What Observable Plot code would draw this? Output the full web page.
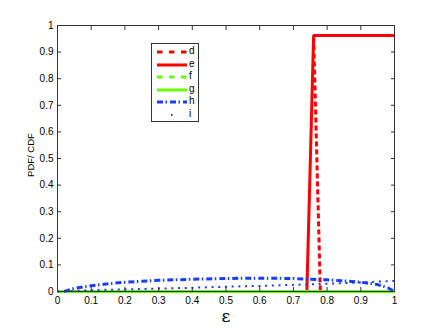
<!DOCTYPE html>
<html>
<head>
<meta charset="utf-8">
<script src="https://cdn.jsdelivr.net/npm/d3@7"></script>
<script src="https://cdn.jsdelivr.net/npm/@observablehq/plot@0.6"></script>
<style>
  html, body { margin: 0; padding: 0; background: #fff; }
  #wrap { position: relative; width: 436px; height: 328px; font-family: "Liberation Sans", Arial, sans-serif; }
  #legend { position: absolute; left: 151px; top: 43px; width: 48px; height: 79px; border: 1px solid #333; background: #fff; box-sizing: border-box; }
  #legend .row { position: absolute; left: 0; height: 12px; width: 100%; }
  #legend svg { position: absolute; left: 5px; top: 0; }
  #legend span { position: absolute; left: 37px; top: -1px; font-size: 10px; color: #000; }
</style>
</head>
<body>
<div id="wrap"></div>
<script>
// ---- data ----
const tickValues = [0, 0.1, 0.2, 0.3, 0.4, 0.5, 0.6, 0.7, 0.8, 0.9, 1];
const tickLabels = ["0", "0.1", "0.2", "0.3", "0.4", "0.5", "0.6", "0.7", "0.8", "0.9", "1"];

const seriesNames = ["d", "e", "f", "g", "h", "i"];
const dX = [0, 0.78, 0.76, 1];
const dY = [0, 0, 0.962, 0.962];
const eX = [0, 0.74, 0.76, 1];
const eY = [0, 0, 0.962, 0.962];
const fX = [0, 1];
const fY = [0, 0];
const gX = [0, 1];
const gY = [0, 0];
const hX = [0.02, 0.05, 0.1, 0.15, 0.2, 0.3, 0.4, 0.5, 0.6, 0.7, 0.75, 0.8, 0.85, 0.9, 0.95, 0.98, 1.0];
const hY = [0, 0.012, 0.022, 0.029, 0.035, 0.042, 0.046, 0.049, 0.05, 0.049, 0.046, 0.044, 0.040, 0.035, 0.026, 0.014, 0];
const iX = [0, 0.1, 0.2, 0.3, 0.4, 0.5, 0.6, 0.7, 0.8, 0.9, 1.0];
const iY = [0, 0.005, 0.008, 0.011, 0.014, 0.018, 0.021, 0.025, 0.029, 0.034, 0.04];

const styles = {
  d: {stroke: "#ff0000", strokeWidth: 3, dash: "5,3"},
  e: {stroke: "#ff0000", strokeWidth: 3, dash: null},
  f: {stroke: "#66ff00", strokeWidth: 3, dash: "5,3"},
  g: {stroke: "#66ff00", strokeWidth: 3, dash: null},
  h: {stroke: "#1a3cff", strokeWidth: 3, dash: "6,2.5,1.5,3"},
  i: {stroke: "#1a3cff", strokeWidth: 2, dash: "2,4.7"}
};

const xs = {d: dX, e: eX, f: fX, g: gX, h: hX, i: iX};
const ys = {d: dY, e: eY, f: fY, g: gY, h: hY, i: iY};

const lineMarks = seriesNames.map(name => {
  const data = xs[name].map((x, k) => ({x, y: ys[name][k]}));
  const s = styles[name];
  return Plot.line(data, {x: "x", y: "y", stroke: s.stroke, strokeWidth: s.strokeWidth,
    strokeDasharray: s.dash ?? undefined, strokeLinejoin: "miter", strokeLinecap: "butt"});
});

const fmt = d => tickLabels[tickValues.indexOf(d)] ?? String(d);
const axisColor = "#333";

const chart = Plot.plot({
  width: 436,
  height: 328,
  marginLeft: 57,
  marginRight: 42,
  marginTop: 25,
  marginBottom: 37,
  style: {fontFamily: "Liberation Sans, Arial, sans-serif", background: "#fff", overflow: "visible"},
  x: {domain: [0, 1], ticks: tickValues},
  y: {domain: [0, 1], ticks: tickValues},
  marks: [
    ...lineMarks,
    Plot.frame({stroke: axisColor, strokeWidth: 1}),
    // inward ticks on all four sides
    Plot.axisX(tickValues, {anchor: "bottom", tickSize: 4, dy: -4, text: null, stroke: axisColor, label: null}),
    Plot.axisX(tickValues, {anchor: "top", tickSize: 4, dy: 4, text: null, stroke: axisColor, label: null}),
    Plot.axisY(tickValues, {anchor: "left", tickSize: 4, dx: 4, text: null, stroke: axisColor, label: null}),
    Plot.axisY(tickValues, {anchor: "right", tickSize: 4, dx: -4, text: null, stroke: axisColor, label: null}),
    // tick labels
    Plot.axisX(tickValues, {anchor: "bottom", tickSize: 0, tickPadding: 5, tickFormat: fmt, fontSize: 10, fill: "#000", label: "ɛ", labelAnchor: "center", labelOffset: 30, labelArrow: "none"}),
    Plot.axisY(tickValues, {anchor: "left", tickSize: 0, tickPadding: 4, tickFormat: fmt, fontSize: 10, fill: "#000", label: null})
  ]
});

const wrap = document.getElementById("wrap");
wrap.appendChild(chart);
const svg = d3.select(chart);
svg.selectAll("[aria-label='x-axis label'] text, [aria-label='x-axis label']").attr("font-size", 17).attr("font-family", "DejaVu Serif, serif");
svg.append("text")
  .attr("transform", "translate(34,155) rotate(-90)")
  .attr("text-anchor", "middle")
  .attr("font-size", 9.5)
  .attr("fill", "#000")
  .text("PDF/ CDF");

// legend
const legend = document.createElement("div");
legend.id = "legend";
seriesNames.forEach((name, k) => {
  const row = document.createElement("div");
  row.className = "row";
  row.style.top = (2 + k * 12.6) + "px";
  const s = styles[name];
  const ls = d3.create("svg").attr("width", 30).attr("height", 12);
  ls.append("line").attr("x1", 0).attr("x2", 30).attr("y1", 6).attr("y2", 6)
    .attr("stroke", s.stroke).attr("stroke-width", s.strokeWidth)
    .attr("stroke-dasharray", name === "i" ? "1.5,30" : (name === "d" || name === "f" ? "5.5,6.5" : s.dash))
    .attr("stroke-dashoffset", name === "i" ? -14 : 0);
  row.appendChild(ls.node());
  const sp = document.createElement("span");
  sp.textContent = name;
  row.appendChild(sp);
  legend.appendChild(row);
});
wrap.appendChild(legend);
</script>
</body>
</html>
